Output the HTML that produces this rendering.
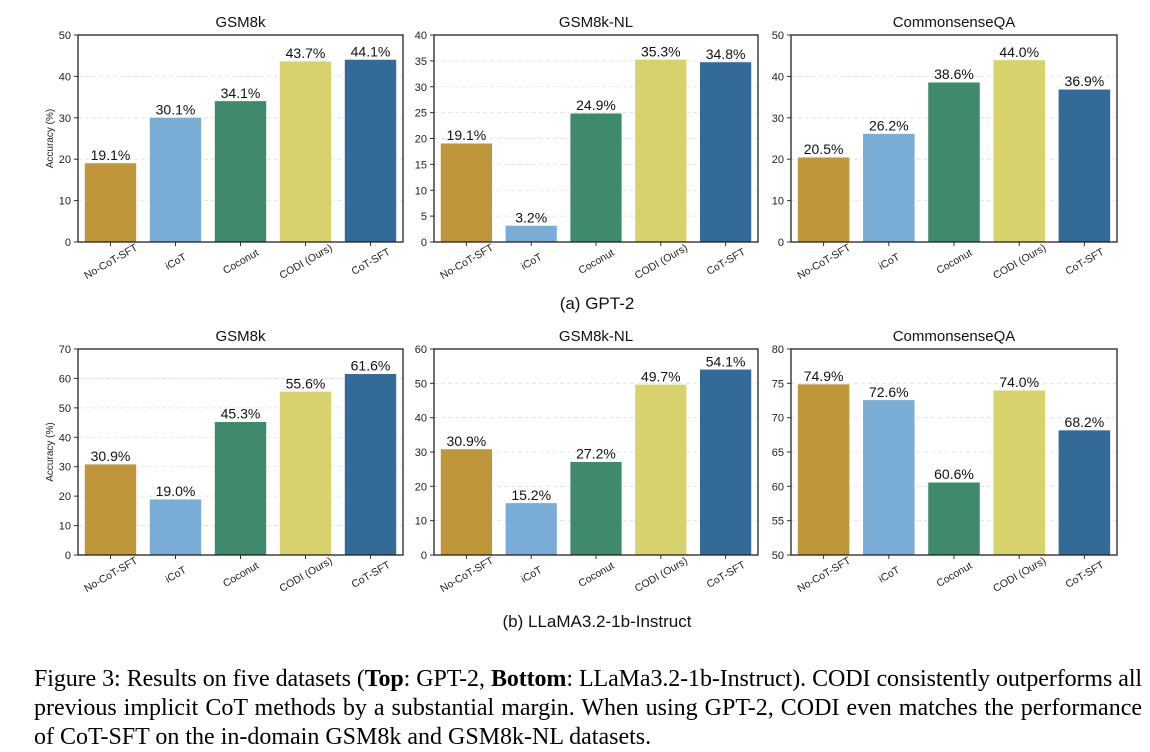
<!DOCTYPE html>
<html><head><meta charset="utf-8"><style>
body{margin:0;background:#fff;width:1150px;height:750px;overflow:hidden;position:relative}
svg{position:absolute;left:0;top:0}
#cap{position:absolute;left:34px;top:665px;width:1108px;font-family:"Liberation Serif",serif;font-size:24px;line-height:29px;color:#000}
#cap div{white-space:nowrap;text-align:justify;text-align-last:justify}
#cap div.first{word-spacing:-1.5px;letter-spacing:-0.1px}
#cap div.last{text-align-last:left}
</style></head><body>
<svg id="fig" width="1150" height="750"></svg>
<div id="cap"><div class="first">Figure 3: Results on five datasets (<b>Top</b>: GPT-2, <b>Bottom</b>: LLaMa3.2-1b-Instruct). CODI consistently outperforms all</div><div>previous implicit CoT methods by a substantial margin. When using GPT-2, CODI even matches the performance</div><div class="last">of CoT-SFT on the in-domain GSM8k and GSM8k-NL datasets.</div></div>
<script>
const categories=["No-CoT-SFT","iCoT","Coconut","CODI (Ours)","CoT-SFT"];
const colors=["#C0963B","#7AADD6","#3F8A6B","#D8D26C","#346A98"];
const titles=["GSM8k","GSM8k-NL","CommonsenseQA","GSM8k","GSM8k-NL","CommonsenseQA"];
const gpt2Gsm8k=[19.1,30.1,34.1,43.7,44.1];
const gpt2Gsm8kNL=[19.1,3.2,24.9,35.3,34.8];
const gpt2CSQA=[20.5,26.2,38.6,44.0,36.9];
const llamaGsm8k=[30.9,19.0,45.3,55.6,61.6];
const llamaGsm8kNL=[30.9,15.2,27.2,49.7,54.1];
const llamaCSQA=[74.9,72.6,60.6,74.0,68.2];
const yMins=[0,0,0,0,0,50];
const yMaxs=[50,40,50,70,60,80];
const ySteps=[10,5,10,10,10,5];
const series=[gpt2Gsm8k,gpt2Gsm8kNL,gpt2CSQA,llamaGsm8k,llamaGsm8kNL,llamaCSQA];
const NS="http://www.w3.org/2000/svg";
const svg=document.getElementById('fig');
function mk(tag,attrs,parent,text){const e=document.createElementNS(NS,tag);for(const k in attrs)e.setAttribute(k,attrs[k]);if(text!==undefined)e.textContent=text;(parent||svg).appendChild(e);return e;}
const boxX=[[78,403],[434,758],[791,1117]];
const boxY=[[35,242],[349,555]];
const F='"Liberation Sans","DejaVu Sans",sans-serif';
for(let p=0;p<6;p++){
  const row=Math.floor(p/3),col=p%3;
  const [x0,x1]=boxX[col],[y0,y1]=boxY[row];
  const g=mk('g',{});
  
  
  const xs=i=>x0+(i+0.5)*(x1-x0)/5;
  const bw=(x1-x0)/5*0.8;
  const ys=v=>y1-(v-yMins[p])/(yMaxs[p]-yMins[p])*(y1-y0);
  for(let t=yMins[p];t<=yMaxs[p]+1e-9;t+=ySteps[p]){
    const y=ys(t);
    if(t>yMins[p]&&t<yMaxs[p]){const gl=mk('line',{x1:x0,x2:x1,y1:y,y2:y,stroke:'#ddd','stroke-dasharray':'4,3','stroke-width':0.8},g);}
    mk('line',{x1:x0-4,x2:x0,y1:y,y2:y,stroke:'#333'},g);
    const tl=mk('text',{x:x0-7,y:y+4,'text-anchor':'end','font-family':F,'font-size':11,fill:'#222'},g,String(t));
    
  }
  series[p].forEach((v,i)=>{
    const r=mk('rect',{x:xs(i)-bw/2,y:ys(v),width:bw,height:y1-ys(v),fill:colors[i],stroke:'#fff','stroke-width':0.6},g);
    
    
    const vl=mk('text',{x:xs(i),y:ys(v)-3,'text-anchor':'middle','font-family':F,'font-size':14,fill:'#111'},g,v.toFixed(1)+'%');
    
    mk('line',{x1:xs(i),x2:xs(i),y1:y1,y2:y1+4,stroke:'#333'},g);
    const cx=xs(i),cy=y1+19;
    const cl=mk('text',{x:cx,y:cy+4,'text-anchor':'middle','font-family':F,'font-size':10.5,fill:'#222',transform:`rotate(-30 ${cx} ${cy})`},g,categories[i]);
    
  });
  const bx=mk('rect',{x:x0,y:y0,width:x1-x0,height:y1-y0,fill:'none',stroke:'#222','stroke-width':1.3},g);
  
  const tt=mk('text',{x:(x0+x1)/2,y:y0-8,'text-anchor':'middle','font-family':F,'font-size':15,fill:'#111'},g,titles[p]);
  
  if(col===0){
    const cy=(y0+y1)/2;
    const yt=mk('text',{x:53,y:cy,'text-anchor':'middle','font-family':F,'font-size':10,fill:'#222',transform:`rotate(-90 53 ${cy})`},g,'Accuracy (%)');
    
  }
}
const s1=mk('text',{x:597,y:309,'text-anchor':'middle','font-family':F,'font-size':17,fill:'#111'},svg,'(a) GPT-2');

const s2=mk('text',{x:597,y:627,'text-anchor':'middle','font-family':F,'font-size':17,fill:'#111'},svg,'(b) LLaMA3.2-1b-Instruct');

</script>
</body></html>
